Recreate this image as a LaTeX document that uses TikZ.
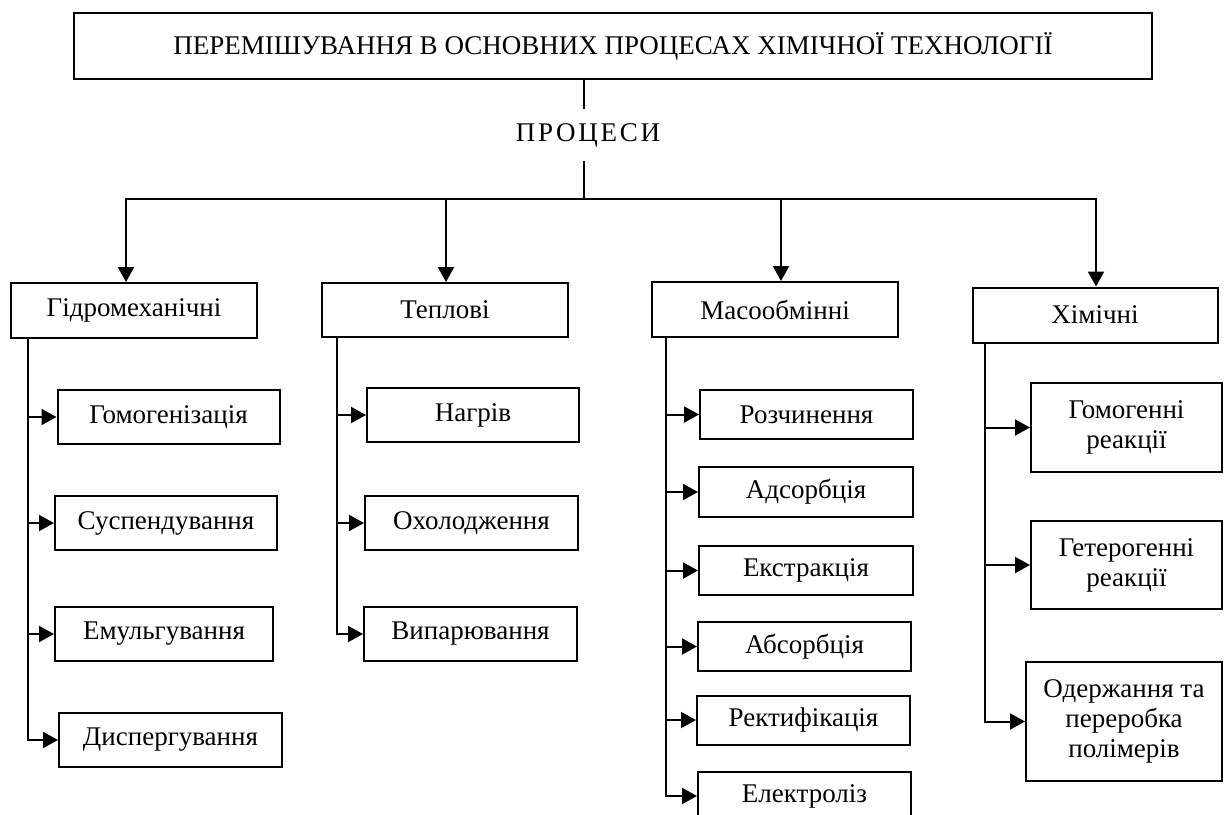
\documentclass[tikz,border=0pt]{standalone}
\usepackage{fontspec}
\setmainfont{Liberation Serif}
\usetikzlibrary{arrows.meta}

\tikzset{
  box/.style={draw, line width=1pt, inner sep=0pt, align=center, font=\fontsize{13.5}{15}\selectfont},
  arr/.style={line width=1pt, -{Triangle[length=7.5pt,width=8pt]}},
  ln/.style={line width=1pt},
}

\begin{document}
\begin{tikzpicture}[x=0.5pt,y=-0.5pt]
\useasboundingbox (0,0) rectangle (1224,814);

\node [box, minimum width=539pt, minimum height=33pt] (title) at (613,46) {ПЕРЕМІШУВАННЯ В ОСНОВНИХ ПРОЦЕСАХ ХІМІЧНОЇ ТЕХНОЛОГІЇ};
\node [inner sep=0pt, minimum height=26pt, font=\fontsize{13.5}{15}\selectfont] (proc) at (588,135) {\addfontfeature{LetterSpace=10}ПРОЦЕСИ};

\coordinate (hub) at (584,199);
\draw[ln] (title.south -| hub) -- (proc.north -| hub);
\draw[ln] (proc.south -| hub) -- (hub);

% first level
\node [box, minimum width=123pt, minimum height=27.5pt] (gidro) at (134,310.5) {Гідромеханічні};
\node [box, minimum width=123pt, minimum height=27pt] (tepl) at (445,310) {Теплові};
\node [box, minimum width=123pt, minimum height=27.5pt] (maso) at (775,309.5) {Масообмінні};
\node [box, minimum width=122.5pt, minimum height=27.5pt] (khim) at (1095,315) {Хімічні};

\draw[arr] (hub) -| ([xshift=-4pt]gidro.north);
\draw[arr] (hub) -| ([xshift=0.5pt]tepl.north);
\draw[arr] (hub) -| ([xshift=3pt]maso.north);
\draw[arr] (hub) -| ([xshift=0.5pt]khim.north);

% hydromechanical
\node [box, minimum width=111pt, minimum height=27pt] (homo) at (168.5,417) {Гомогенізація};
\node [box, minimum width=111pt, minimum height=27pt] (susp) at (166,523) {Суспендування};
\node [box, minimum width=109pt, minimum height=27pt] (emul) at (164,634) {Емульгування};
\node [box, minimum width=111.5pt, minimum height=27pt] (disp) at (170.5,740) {Диспергування};

\coordinate (t1) at (28,338);
\foreach \n in {homo,susp,emul,disp}
  \draw[arr] (t1) |- (\n.west);

% thermal
\node [box, minimum width=106pt, minimum height=27pt] (nagr) at (473,415) {Нагрів};
\node [box, minimum width=106.5pt, minimum height=27pt] (okhol) at (471.5,523) {Охолодження};
\node [box, minimum width=106.5pt, minimum height=27pt] (vypar) at (470.5,634) {Випарювання};

\coordinate (t2) at (337,337);
\foreach \n in {nagr,okhol,vypar}
  \draw[arr] (t2) |- (\n.west);

% mass transfer
\node [box, minimum width=106.5pt, minimum height=24.5pt] (rozch) at (806.5,414.5) {Розчинення};
\node [box, minimum width=107pt, minimum height=25pt] (adsor) at (806,492) {Адсорбція};
\node [box, minimum width=107pt, minimum height=24.5pt] (ekstr) at (806,570.5) {Екстракція};
\node [box, minimum width=106.5pt, minimum height=24.5pt] (absor) at (804.5,646.5) {Абсорбція};
\node [box, minimum width=106.5pt, minimum height=24.5pt] (rekt) at (803.5,720) {Ректифікація};
\node [box, minimum width=106.5pt, minimum height=24.5pt] (elek) at (804.5,796) {Електроліз};

\coordinate (t3) at (666,337);
\foreach \n in {rozch,adsor,ekstr,absor,rekt,elek}
  \draw[arr] (t3) |- (\n.west);

% chemical
\node [box, minimum width=95.5pt, minimum height=44.5pt] (gomr) at (1126.5,427.5) {Гомогенні\\реакції};
\node [box, minimum width=95.5pt, minimum height=44pt] (geter) at (1126.5,565) {Гетерогенні\\реакції};
\node [box, minimum width=98pt, minimum height=59.5pt] (polim) at (1124,721.5) {Одержання та\\переробка\\полімерів};

\coordinate (t4) at (985,343);
\foreach \n in {gomr,geter,polim}
  \draw[arr] (t4) |- (\n.west);
\end{tikzpicture}
\end{document}
